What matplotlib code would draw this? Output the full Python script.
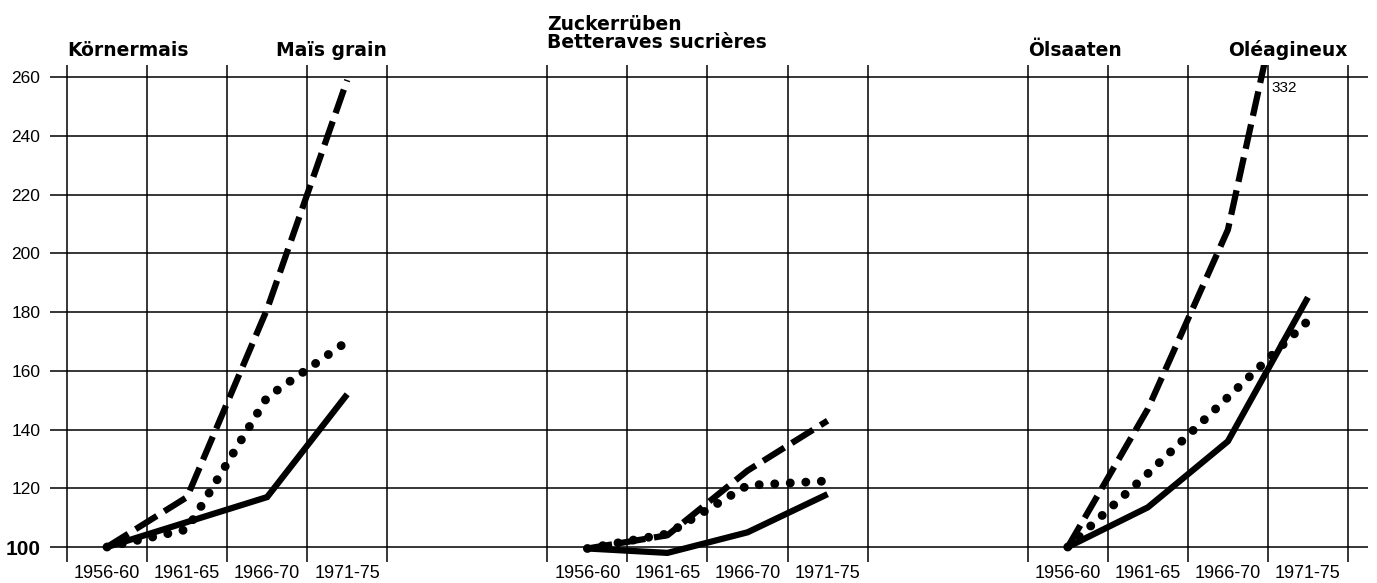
import matplotlib
matplotlib.use('Agg')
import matplotlib.pyplot as plt

# Index 1956-60 = 100
periods = ['1956-60', '1961-65', '1966-70', '1971-75']
y_ticks = [100, 120, 140, 160, 180, 200, 220, 240, 260]

mais_solid = [100, 108.5, 117, 152]
mais_dashed = [100, 117, 181, 259]
mais_dotted = [100, 106, 151, 170]

zucker_solid = [99.5, 98, 105, 118]
zucker_dashed = [99.5, 104, 126, 143]
zucker_dotted = [99.5, 104.5, 121, 122.5]

oel_solid = [100, 113.5, 136, 185]
oel_dashed = [100, 147, 208, 332]
oel_dotted = [100, 125, 151, 177]

panels = [
    ('Körnermais', 'Maïs grain', mais_solid, mais_dashed, mais_dotted),
    ('Zuckerrüben', 'Betteraves sucrières', zucker_solid, zucker_dashed, zucker_dotted),
    ('Ölsaaten', 'Oléagineux', oel_solid, oel_dashed, oel_dotted),
]
panel_offsets = [0, 6, 12]

W, H = 1377, 583
fig = plt.figure(figsize=(W / 100, H / 100), dpi=100)
ax = fig.add_axes([50 / W, 21 / H, 1318 / W, 497 / H])
ax.set_xlim(-0.212, 16.25)
ax.set_ylim(94.9, 264.1)
for s in ax.spines.values():
    s.set_visible(False)

# grid
for v in y_ticks:
    ax.axhline(v, color='black', lw=1.1, zorder=1)
for off in panel_offsets:
    for k in range(5):
        ax.axvline(off + k, color='black', lw=1.1, zorder=1)

title_font = dict(family='DejaVu Sans', fontweight='bold', fontsize=13.5)
xt_pos, xt_lab = [], []
for off, (name_de, name_fr, solid, dashed, dotted) in zip(panel_offsets, panels):
    x = [off + i + 0.5 for i in range(len(periods))]
    ax.plot(x, solid, color='black', lw=4.5, solid_joinstyle='miter',
            solid_capstyle='butt', zorder=3)
    ax.plot(x, dashed, color='black', lw=4.5, linestyle=(0, (4.0, 1.4)),
            dash_capstyle='butt', zorder=3)
    ax.plot(x, dotted, color='black', lw=6.4, linestyle=(0, (0.01, 1.74)),
            dash_capstyle='round', zorder=3)
    xt_pos += x
    xt_lab += periods

    if off == 6:
        ax.text(off, 276.0, name_de, ha='left', va='baseline', **title_font)
        ax.text(off, 269.9, name_fr, ha='left', va='baseline', **title_font)
    else:
        ax.text(off, 267.1, name_de, ha='left', va='baseline', **title_font)
        ax.text(off + 4, 267.1, name_fr, ha='right', va='baseline', **title_font)

# label for the value off the chart
ax.text(15.05, 256.3, str(oel_dashed[-1]), ha='left', va='center',
        family='Liberation Sans', fontsize=11)

ax.set_xticks(xt_pos)
ax.set_xticklabels(xt_lab, family='Liberation Sans', fontsize=13)
ax.set_yticks(y_ticks)
ax.set_yticklabels([str(v) for v in y_ticks], family='Liberation Sans', fontsize=12.5)
ax.tick_params(axis='both', length=0)
ax.tick_params(axis='y', pad=7)
ax.tick_params(axis='x', pad=2)
lab100 = ax.get_yticklabels()[0]
lab100.set_fontweight('bold')
lab100.set_fontsize(15)

fig.savefig('out.png', dpi=100)
